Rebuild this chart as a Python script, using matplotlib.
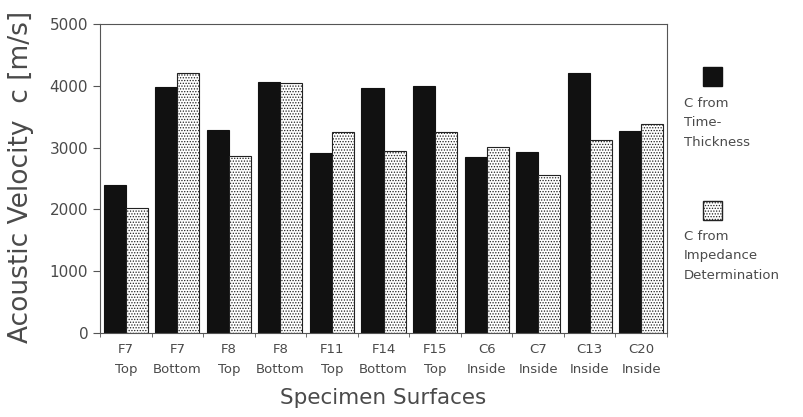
import numpy as np
import matplotlib
matplotlib.use("Agg")
import matplotlib.pyplot as plt
from matplotlib.patches import Rectangle

# values
labels = ["F7\nTop", "F7\nBottom", "F8\nTop", "F8\nBottom", "F11\nTop", "F14\nBottom",
          "F15\nTop", "C6\nInside", "C7\nInside", "C13\nInside", "C20\nInside"]
c_time = [2400, 3980, 3290, 4060, 2920, 3960, 4000, 2850, 2930, 4200, 3270]
c_imped = [2030, 4200, 2860, 4040, 3250, 2950, 3250, 3010, 2560, 3130, 3380]
legend_names = ["C from\nTime-\nThickness", "C from\nImpedance\nDetermination"]

txt = "#4a4a4a"
plt.rcParams['hatch.linewidth'] = 0.6

fig = plt.figure(figsize=(8.04, 4.17), dpi=100)
ax = fig.add_axes([0.1244, 0.2014, 0.7052, 0.741])

x = np.arange(len(labels))
w = 0.427
ax.bar(x - w/2, c_time, w, color="#111111", edgecolor="#111111", linewidth=0.8)
ax.bar(x + w/2, c_imped, w, color="white", edgecolor="#222222", linewidth=0.8, hatch="......")

ax.set_xlim(-0.5, len(labels) - 0.5)
ax.set_ylim(0, 5000)
ax.set_yticks([0, 1000, 2000, 3000, 4000, 5000])
ax.set_xticks(x)
ax.set_xticklabels(labels, fontsize=9.5, color=txt, linespacing=1.7)
ax.set_xticks(np.arange(len(labels) + 1) - 0.5, minor=True)
ax.tick_params(axis='x', which='major', length=0, pad=7)
ax.tick_params(axis='x', which='minor', length=3, direction='out', color='#555555')
ax.tick_params(axis='y', labelsize=11, labelcolor=txt, length=5, color='#555555')
for s in ax.spines.values():
    s.set_color('#555555')

fig.text(21/804, 1 - 177/417, "Acoustic Velocity  c [m/s]", fontsize=19, color=txt,
         rotation=90, ha='center', va='center')
ax.set_xlabel("Specimen Surfaces", fontsize=15.5, color=txt, labelpad=9)

# legend drawn by hand at the right side, as in the original
fig.patches.append(Rectangle((703/804, 1 - 86/417), 19/804, 19/417, transform=fig.transFigure,
                             facecolor="#111111", edgecolor="#111111"))
fig.patches.append(Rectangle((703/804, 1 - 220/417), 19/804, 19/417, transform=fig.transFigure,
                             facecolor="white", edgecolor="#222222", hatch="......"))
fig.text(684/804, 1 - 97/417, legend_names[0], fontsize=9.5, color=txt, va='top', ha='left',
         linespacing=1.65)
fig.text(684/804, 1 - 230/417, legend_names[1], fontsize=9.5, color=txt, va='top', ha='left',
         linespacing=1.65)

fig.savefig("out.png", dpi=100)
